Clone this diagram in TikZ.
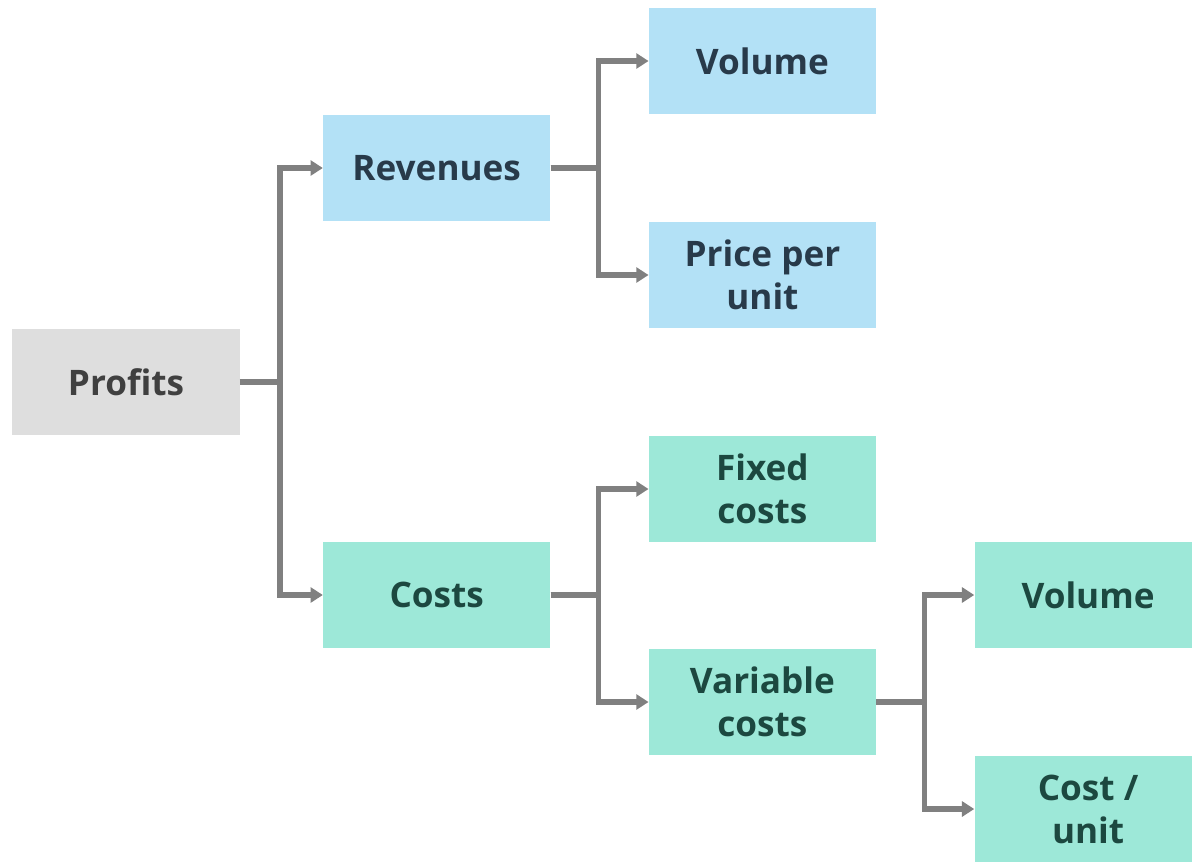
\documentclass[tikz,border=0pt]{standalone}
\usepackage{fontspec}
\setmainfont{Open Sans}
\usepackage{tikz}
\usetikzlibrary{positioning, arrows.meta}
\definecolor{revblue}{HTML}{B3E1F6}
\definecolor{costgreen}{HTML}{9DE8D8}
\definecolor{profgrey}{HTML}{DEDEDE}
\definecolor{linegrey}{HTML}{808080}
\tikzstyle{box} = [rectangle, minimum width=4.54cm, minimum height=2.12cm, inner sep=0pt, align=center, font=\fontsize{20}{24.5}\selectfont\bfseries]
\tikzstyle{profbox} = [box, fill=profgrey, text=black!75]
\tikzstyle{revbox} = [box, fill=revblue, text={rgb,255:red,40;green,58;blue,74}]
\tikzstyle{costbox} = [box, fill=costgreen, text={rgb,255:red,28;green,72;blue,64}]
\tikzstyle{arrow} = [line width=0.11cm, draw=linegrey, -{Triangle[length=7pt,width=8.5pt]}]

\begin{document}
\begin{tikzpicture}
		\useasboundingbox (-2.52,7.64) rectangle (21.32,-9.58);
		\node (prof) [profbox] {Profits};
		\node (rev) [revbox, right=1.66cm of prof, yshift=4.28cm] {Revenues};
		\node (cost) [costbox, right=1.66cm of prof, yshift=-4.26cm] {Costs};
		\node (vol1) [revbox, right=1.96cm of rev, yshift=2.14cm] {Volume};
		\node (price) [revbox, right=1.96cm of rev, yshift=-2.14cm] {Price per\\unit};
		\node (fixed) [costbox, right=1.96cm of cost, yshift=2.12cm] {Fixed\\costs};
		\node (var) [costbox, right=1.96cm of cost, yshift=-2.14cm] {Variable\\costs};
		\node (vol2) [costbox, right=1.96cm of var, yshift=2.14cm] {Volume};
		\node (unit) [costbox, right=1.96cm of var, yshift=-2.14cm] {Cost /\\unit};
		\draw [arrow] (prof.east) -- ++(0.8,0) |- (rev);
		\draw [arrow] (prof.east) -- ++(0.8,0) |- (cost);
		\draw [arrow] (rev.east) -- ++(0.96,0) |- (vol1);
		\draw [arrow] (rev.east) -- ++(0.96,0) |- (price);
		\draw [arrow] (cost.east) -- ++(0.96,0) |- (fixed);
		\draw [arrow] (cost.east) -- ++(0.96,0) |- (var);
		\draw [arrow] (var.east) -- ++(0.96,0) |- (vol2);
		\draw [arrow] (var.east) -- ++(0.96,0) |- (unit);
		\end{tikzpicture}
\end{document}
